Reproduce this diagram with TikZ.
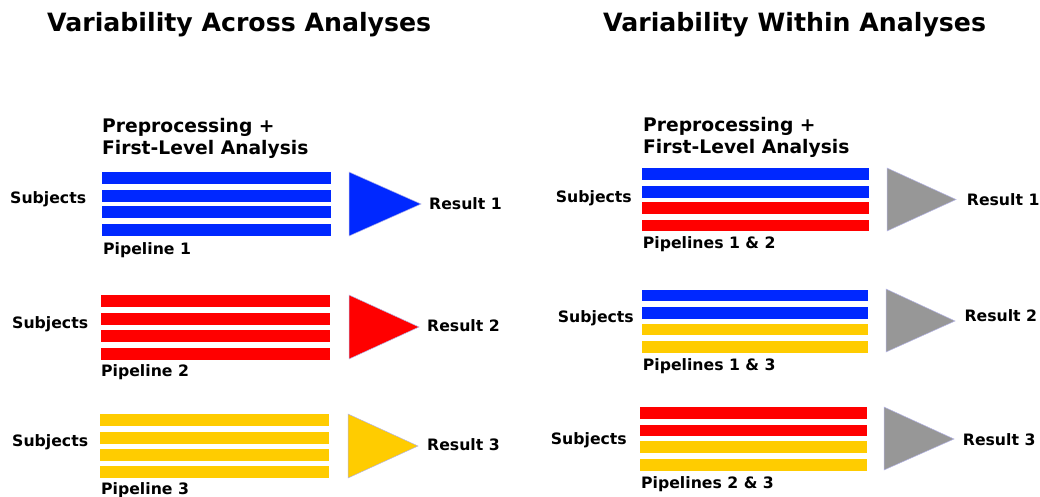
\documentclass[tikz,border=0pt]{standalone}
\usepackage{fontspec}
\setmainfont{DejaVu Sans}
\definecolor{pblue}{RGB}{0,40,255}
\definecolor{pred}{RGB}{255,0,0}
\definecolor{pyel}{RGB}{255,204,0}
\definecolor{pgrey}{RGB}{151,151,151}
\definecolor{edge}{RGB}{180,180,230}
\begin{document}
\begin{tikzpicture}[x=1pt,y=-1pt,
  title/.style={font=\fontsize{25.2}{30}\selectfont\bfseries, anchor=base west, inner sep=0pt},
  lbl/.style={font=\fontsize{15.7}{19}\selectfont\bfseries, anchor=base west, inner sep=0pt},
  head/.style={font=\fontsize{18.7}{22}\selectfont\bfseries, anchor=base west, inner sep=0pt},
  barbox/.style={fill=#1, draw=none, inner sep=0pt, anchor=north west, minimum height=12pt},
  tri/.style={fill=#1, draw=edge, line width=0.5pt}]
\useasboundingbox (0,0) rectangle (1040,497);
% titles
\node[title] (tA) at (47,31.5) {Variability Across Analyses};
\node[title] (tW) at (603,31.5) {Variability Within Analyses};
% headers
\node[head] (hA1) at (102,132.3) {Preprocessing +};
\node[head] (hA2) at (102,154) {First-Level Analysis};
\node[head] (hW1) at (643,131.7) {Preprocessing +};
\node[head] (hW2) at (643,153.3) {First-Level Analysis};
% ---- left group 1
\foreach \t [count=\i] in {171.7,189.3,206,224}
  \node[barbox=pblue, minimum width=229pt] (LAb\i) at (102,\t) {};
\fill[tri=pblue] (349,172) -- (349,236) -- (421,204) -- cycle;
\node[lbl] (LAs) at (10,203) {Subjects};
\node[lbl] (LAr) at (429,209) {Result 1};
\node[lbl] (LAp) at (103,254.3) {Pipeline 1};
% ---- left group 2
\foreach \t [count=\i] in {295,312.7,329.3,347.3}
  \node[barbox=pred, minimum width=229pt] (LBb\i) at (101,\t) {};
\fill[tri=pred] (349,295) -- (349,359) -- (419,327) -- cycle;
\node[lbl] (LBs) at (12,328.3) {Subjects};
\node[lbl] (LBr) at (427,331.7) {Result 2};
\node[lbl] (LBp) at (101,376.7) {Pipeline 2};
% ---- left group 3
\foreach \t [count=\i] in {414,431.7,448.7,466}
  \node[barbox=pyel, minimum width=229pt] (LCb\i) at (100,\t) {};
\fill[tri=pyel] (348,414) -- (348,478) -- (418,446) -- cycle;
\node[lbl] (LCs) at (12,446.7) {Subjects};
\node[lbl] (LCr) at (427,450) {Result 3};
\node[lbl] (LCp) at (101,494.3) {Pipeline 3};
% ---- right group 1
\foreach \t/\c [count=\i] in {168.3/pblue,185.7/pblue,202/pred,219.3/pred}
  \node[barbox=\c, minimum width=227pt, minimum height=11.6pt] (RAb\i) at (642,\t) {};
\fill[tri=pgrey] (887,168) -- (887,231) -- (956,199.5) -- cycle;
\node[lbl] (RAs) at (555.7,202.7) {Subjects};
\node[lbl] (RAr) at (966.7,205) {Result 1};
\node[lbl] (RAp) at (642.7,248.3) {Pipelines 1 \& 2};
% ---- right group 2
\foreach \t/\c [count=\i] in {289.3/pblue,306.7/pblue,323.3/pyel,341/pyel}
  \node[barbox=\c, minimum width=226pt, minimum height=11.6pt] (RBb\i) at (642,\t) {};
\fill[tri=pgrey] (886,289) -- (886,352) -- (955,321) -- cycle;
\node[lbl] (RBs) at (557.7,322.7) {Subjects};
\node[lbl] (RBr) at (964.3,321.7) {Result 2};
\node[lbl] (RBp) at (642.7,370.7) {Pipelines 1 \& 3};
% ---- right group 3
\foreach \t/\c [count=\i] in {406.7/pred,424.3/pred,441/pyel,458.7/pyel}
  \node[barbox=\c, minimum width=227pt, minimum height=11.6pt] (RCb\i) at (640,\t) {};
\fill[tri=pgrey] (884,407) -- (884,470) -- (954,439) -- cycle;
\node[lbl] (RCs) at (550.7,444) {Subjects};
\node[lbl] (RCr) at (962.7,445) {Result 3};
\node[lbl] (RCp) at (641,488.3) {Pipelines 2 \& 3};
\end{tikzpicture}
\end{document}
